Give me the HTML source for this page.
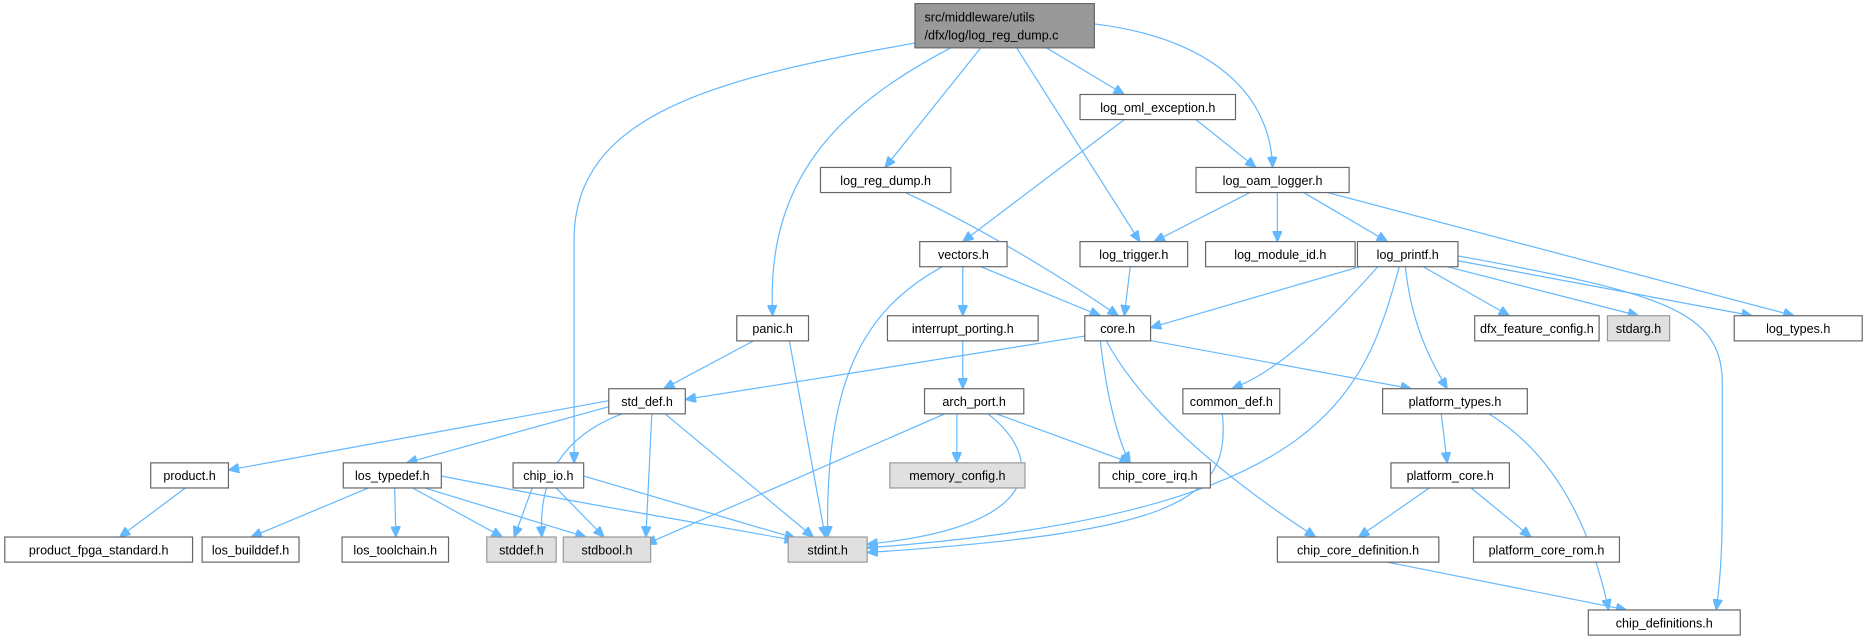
<!DOCTYPE html>
<html><head><meta charset="utf-8"><style>
html,body{margin:0;padding:0;background:#fff;}
svg{display:block;}
text{font-family:"Liberation Sans","DejaVu Sans",sans-serif;font-size:10.5px;fill:#000;}
.n{fill:#fff;stroke:#666;stroke-width:1;}
.g{fill:#e0e0e0;stroke:#999;stroke-width:1;}
.e{fill:none;stroke:#63b8ff;stroke-width:1;marker-end:url(#a);}
</style></head><body>
<svg width="1867" height="637" viewBox="0 0 1561 532.6" preserveAspectRatio="none" xmlns="http://www.w3.org/2000/svg">
<defs><marker id="a" markerWidth="9" markerHeight="8" refX="9" refY="4" orient="auto" markerUnits="userSpaceOnUse"><path d="M0,0 L9,4 L0,8 z" fill="#63b8ff" stroke="#63b8ff"/></marker></defs>
<g>
<path class="e" d="M765,36 C600,65 480,95 480,200 L480,387"/>
<path class="e" d="M795,40 C700,90 640,150 646,264"/>
<path class="e" d="M820,40 L740,140"/>
<path class="e" d="M850,40 L953,202"/>
<path class="e" d="M875,40 L940,79"/>
<path class="e" d="M915,20 C1000,30 1062,70 1064,140"/>
<path class="e" d="M940,100 L805,202"/>
<path class="e" d="M1000,100 L1050,140"/>
<path class="e" d="M757,161 C830,195 900,240 935,264"/>
<path class="e" d="M1045,161 L965,202"/>
<path class="e" d="M1068,161 L1068,202"/>
<path class="e" d="M1090,161 L1160,202"/>
<path class="e" d="M1110,161 L1500,264"/>
<path class="e" d="M820,223 L920,264"/>
<path class="e" d="M805,223 L805,264"/>
<path class="e" d="M788,223 C720,260 690,320 692,449"/>
<path class="e" d="M945,223 L940,264"/>
<path class="e" d="M1137,223 L962,274"/>
<path class="e" d="M1152,223 C1110,270 1070,310 1030,325"/>
<path class="e" d="M1170,223 C1140,330 1110,430 725,458"/>
<path class="e" d="M1175,223 C1180,270 1195,300 1210,325"/>
<path class="e" d="M1190,223 L1262,264"/>
<path class="e" d="M1210,223 L1370,264"/>
<path class="e" d="M1219,218 L1465,264"/>
<path class="e" d="M1219,214 C1390,245 1440,260 1440,320 L1440,420 C1440,470 1437,495 1435,510"/>
<path class="e" d="M630,285 L555,325"/>
<path class="e" d="M660,285 L690,449"/>
<path class="e" d="M805,285 L805,325"/>
<path class="e" d="M907,281 L573,334"/>
<path class="e" d="M920,285 C925,330 935,370 945,387"/>
<path class="e" d="M925,285 C960,350 1040,410 1100,449"/>
<path class="e" d="M947,282 L1180,325"/>
<path class="e" d="M509,335 L191,393"/>
<path class="e" d="M509,340 L340,387"/>
<path class="e" d="M520,346 C470,365 450,400 453,449"/>
<path class="e" d="M545,346 L540,449"/>
<path class="e" d="M556,346 L680,449"/>
<path class="e" d="M800,346 L800,387"/>
<path class="e" d="M833,346 L945,387"/>
<path class="e" d="M826,346 C870,380 880,440 725,455"/>
<path class="e" d="M790,346 L540,455"/>
<path class="e" d="M1022,346 C1030,420 980,445 725,462"/>
<path class="e" d="M1205,346 L1210,387"/>
<path class="e" d="M1245,346 C1300,380 1330,440 1345,510"/>
<path class="e" d="M1195,408 L1136,449"/>
<path class="e" d="M1230,408 L1280,449"/>
<path class="e" d="M1160,470 L1360,510"/>
<path class="e" d="M155,408 L100,449"/>
<path class="e" d="M308,408 L210,449"/>
<path class="e" d="M330,408 L331,449"/>
<path class="e" d="M345,408 L420,449"/>
<path class="e" d="M355,408 L490,449"/>
<path class="e" d="M369,398 C480,420 600,440 665,452"/>
<path class="e" d="M445,408 L430,449"/>
<path class="e" d="M465,408 L505,449"/>
<path class="e" d="M488,398 L665,450"/>
</g>
<g>
<rect x="765" y="3" width="150" height="37" fill="#999" stroke="#666"/>
<text x="773" y="18">src/middleware/utils</text><text x="773" y="33">/dfx/log/log_reg_dump.c</text>
</g>
<g>
<rect class="n" x="903" y="79" width="130" height="21"/><text x="968" y="93.5" text-anchor="middle">log_oml_exception.h</text>
<rect class="n" x="686" y="140" width="109" height="21"/><text x="740.5" y="154.5" text-anchor="middle">log_reg_dump.h</text>
<rect class="n" x="1000" y="140" width="128" height="21"/><text x="1064" y="154.5" text-anchor="middle">log_oam_logger.h</text>
<rect class="n" x="769" y="202" width="73" height="21"/><text x="805.5" y="216.5" text-anchor="middle">vectors.h</text>
<rect class="n" x="903" y="202" width="90" height="21"/><text x="948" y="216.5" text-anchor="middle">log_trigger.h</text>
<rect class="n" x="1008" y="202" width="125" height="21"/><text x="1070.5" y="216.5" text-anchor="middle">log_module_id.h</text>
<rect class="n" x="1135" y="202" width="84" height="21"/><text x="1177" y="216.5" text-anchor="middle">log_printf.h</text>
<rect class="n" x="616" y="264" width="60" height="21"/><text x="646" y="278.5" text-anchor="middle">panic.h</text>
<rect class="n" x="742" y="264" width="126" height="21"/><text x="805" y="278.5" text-anchor="middle">interrupt_porting.h</text>
<rect class="n" x="907" y="264" width="55" height="21"/><text x="934.5" y="278.5" text-anchor="middle">core.h</text>
<rect class="n" x="1233" y="264" width="104" height="21"/><text x="1285" y="278.5" text-anchor="middle">dfx_feature_config.h</text>
<rect class="g" x="1344" y="264" width="52" height="21"/><text x="1370" y="278.5" text-anchor="middle">stdarg.h</text>
<rect class="n" x="1450" y="264" width="107" height="21"/><text x="1503.5" y="278.5" text-anchor="middle">log_types.h</text>
<rect class="n" x="509" y="325" width="64" height="21"/><text x="541" y="339.5" text-anchor="middle">std_def.h</text>
<rect class="n" x="773" y="325" width="83" height="21"/><text x="814.5" y="339.5" text-anchor="middle">arch_port.h</text>
<rect class="n" x="989" y="325" width="81" height="21"/><text x="1029.5" y="339.5" text-anchor="middle">common_def.h</text>
<rect class="n" x="1156" y="325" width="121" height="21"/><text x="1216.5" y="339.5" text-anchor="middle">platform_types.h</text>
<rect class="n" x="126" y="387" width="65" height="21"/><text x="158.5" y="401.5" text-anchor="middle">product.h</text>
<rect class="n" x="287" y="387" width="82" height="21"/><text x="328" y="401.5" text-anchor="middle">los_typedef.h</text>
<rect class="n" x="429" y="387" width="59" height="21"/><text x="458.5" y="401.5" text-anchor="middle">chip_io.h</text>
<rect class="g" x="744" y="387" width="113" height="21"/><text x="800.5" y="401.5" text-anchor="middle">memory_config.h</text>
<rect class="n" x="919" y="387" width="93" height="21"/><text x="965.5" y="401.5" text-anchor="middle">chip_core_irq.h</text>
<rect class="n" x="1163" y="387" width="99" height="21"/><text x="1212.5" y="401.5" text-anchor="middle">platform_core.h</text>
<rect class="n" x="4" y="449" width="157" height="21"/><text x="82.5" y="463.5" text-anchor="middle">product_fpga_standard.h</text>
<rect class="n" x="169" y="449" width="81" height="21"/><text x="209.5" y="463.5" text-anchor="middle">los_builddef.h</text>
<rect class="n" x="286" y="449" width="89" height="21"/><text x="330.5" y="463.5" text-anchor="middle">los_toolchain.h</text>
<rect class="g" x="407" y="449" width="58" height="21"/><text x="436" y="463.5" text-anchor="middle">stddef.h</text>
<rect class="g" x="471" y="449" width="73" height="21"/><text x="507.5" y="463.5" text-anchor="middle">stdbool.h</text>
<rect class="g" x="659" y="449" width="66" height="21"/><text x="692" y="463.5" text-anchor="middle">stdint.h</text>
<rect class="n" x="1068" y="449" width="135" height="21"/><text x="1135.5" y="463.5" text-anchor="middle">chip_core_definition.h</text>
<rect class="n" x="1232" y="449" width="122" height="21"/><text x="1293" y="463.5" text-anchor="middle">platform_core_rom.h</text>
<rect class="n" x="1328" y="510" width="127" height="21"/><text x="1391.5" y="524.5" text-anchor="middle">chip_definitions.h</text>
</g>
</svg>
</body></html>
